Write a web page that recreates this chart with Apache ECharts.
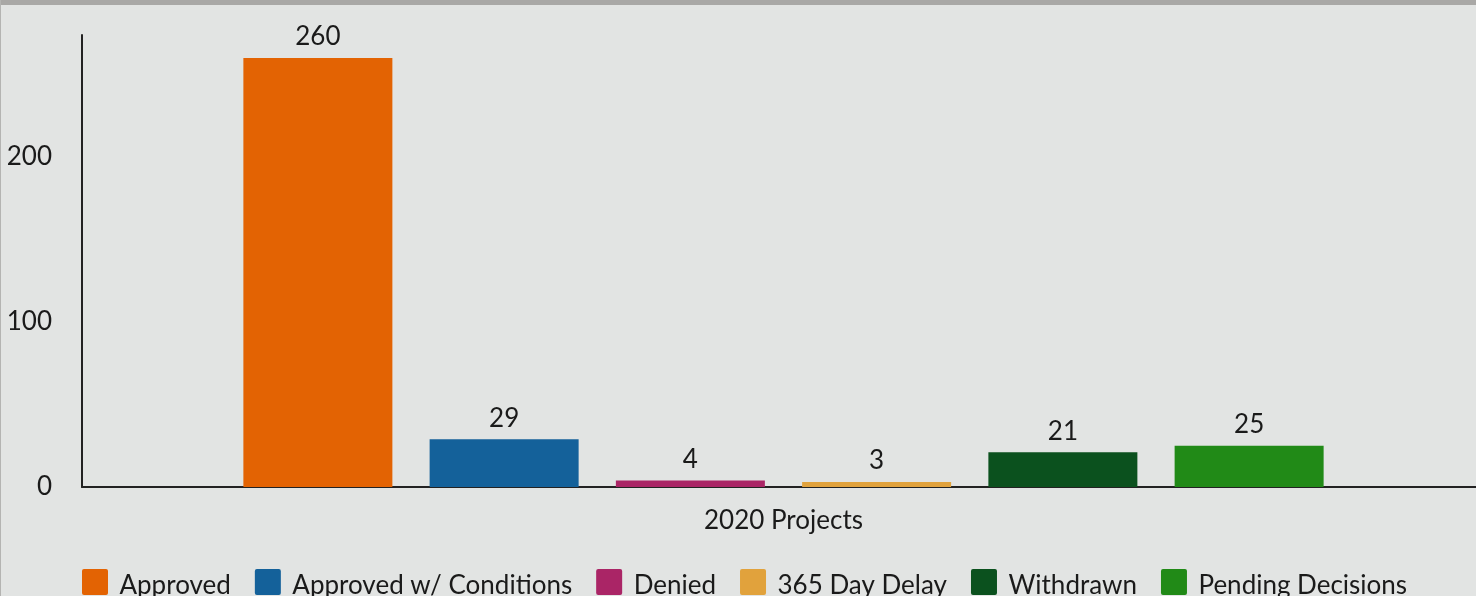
<!DOCTYPE html>
<html>
<head>
<meta charset="utf-8">
<script src="https://cdn.jsdelivr.net/npm/echarts@6/dist/echarts.min.js"></script>
<style>
html,body{margin:0;padding:0;background:#e2e4e3;}
#wrap{position:relative;width:1476px;height:596px;overflow:hidden;background:#e2e4e3;}
#main{position:absolute;left:0;top:0;width:1500px;height:596px;}
#topbar{position:absolute;left:0;top:0;width:1476px;height:5px;background:#a9a8a6;z-index:2;}
#leftbar{position:absolute;left:0;top:0;width:1px;height:596px;background:#b4b4b2;z-index:2;}
</style>
</head>
<body>
<div id="wrap"><div id="main"></div><div id="topbar"></div><div id="leftbar"></div></div>
<script>
const categories = ['2020 Projects'];
const seriesNames = ['Approved', 'Approved w/ Conditions', 'Denied', '365 Day Delay', 'Withdrawn', 'Pending Decisions'];
const seriesValues = [260, 29, 4, 3, 21, 25];
const seriesColors = ['#e36303', '#14619a', '#aa2566', '#e1a23c', '#0b511e', '#218a17'];
const yTicks = [0, 100, 200];

const chart = echarts.init(document.getElementById('main'), null, {renderer: 'canvas'});
const font = 'Lato, "Noto Sans", sans-serif';
const squareIcon = 'path://M2,0 H24 A2,2 0 0 1 26,2 V24 A2,2 0 0 1 24,26 H2 A2,2 0 0 1 0,24 V2 A2,2 0 0 1 2,0 Z';
chart.setOption({
  backgroundColor: 'transparent',
  animation: false,
  textStyle: {fontFamily: font},
  legend: {
    data: seriesNames,
    left: 77,
    top: 564,
    itemWidth: 27,
    itemHeight: 26,
    itemGap: 24,
    icon: squareIcon,
    formatter: function (name) { return '{t|' + name + '}'; },
    textStyle: {
      fontSize: 26, color: '#1a1a1a', fontFamily: font,
      rich: {t: {fontSize: 26, color: '#1a1a1a', fontFamily: font, padding: [8, 0, 0, 6]}}
    }
  },
  grid: {left: 82, top: 35, right: 15, bottom: 109, containLabel: false},
  xAxis: {
    type: 'category',
    data: categories,
    axisLine: {show: true, lineStyle: {color: '#222', width: 2}},
    axisTick: {show: false},
    axisLabel: {fontSize: 26, color: '#1a1a1a', margin: 21, fontFamily: font}
  },
  yAxis: {
    type: 'value',
    min: 0,
    max: 274,
    interval: 100,
    splitLine: {show: false},
    axisLine: {show: true, lineStyle: {color: '#222', width: 2}},
    axisTick: {show: false},
    axisLabel: {
      fontSize: 26, color: '#1a1a1a', margin: 30, fontFamily: font,
      showMaxLabel: false,
      formatter: function (v) { return yTicks.indexOf(v) >= 0 ? String(v) : ''; }
    }
  },
  series: seriesNames.map(function (name, i) {
    return {
      name: name,
      type: 'bar',
      data: [seriesValues[i]],
      barWidth: 149,
      barGap: '25%',
      itemStyle: {color: seriesColors[i]},
      label: {show: true, position: 'top', distance: 8, fontSize: 26, color: '#1a1a1a', fontFamily: font}
    };
  })
});
</script>
</body>
</html>
